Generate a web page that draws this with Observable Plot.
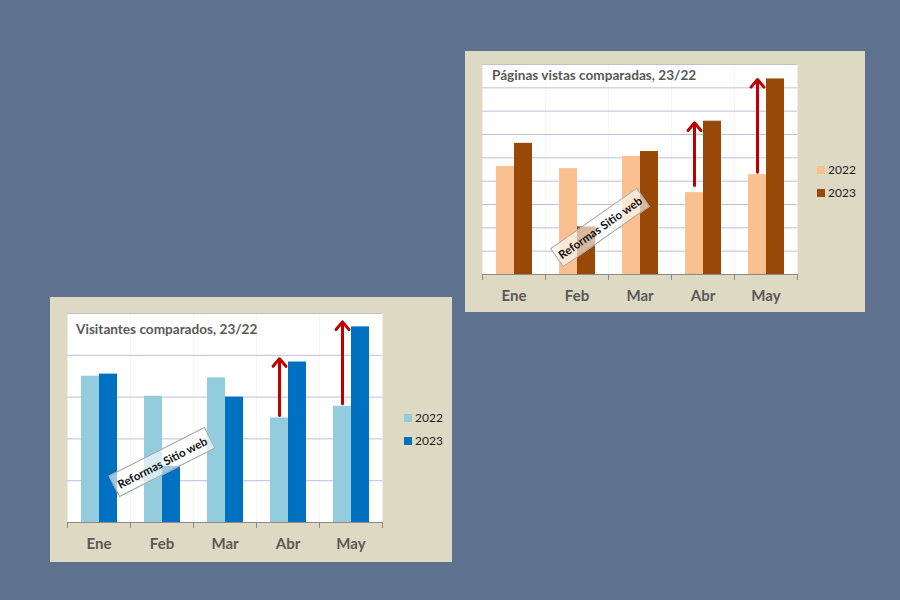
<!DOCTYPE html>
<html>
<head>
<meta charset="utf-8">
<script src="https://cdn.jsdelivr.net/npm/d3@7"></script>
<script src="https://cdn.jsdelivr.net/npm/@observablehq/plot@0.6"></script>
<style>
  html, body { margin: 0; padding: 0; }
  body { width: 900px; height: 600px; background: #5e7290; overflow: hidden; position: relative; font-family: Lato, "Open Sans", sans-serif; }
  .panel { position: absolute; background: #ddd9c3; }
  .panel svg { position: absolute; left: 0; top: 0; }
  .title { position: absolute; font-weight: bold; color: #595959; font-size: 13.6px; line-height: 14px; white-space: nowrap; }
  .legend { position: absolute; font-size: 12px; line-height: 12px; color: #1f1f1f; }
  .legend div { height: 12px; margin-bottom: 11px; white-space: nowrap; }
  .sw { display: inline-block; width: 8px; height: 8px; margin-right: 3px; }
  .note { position: absolute; box-sizing: border-box; border: 1px solid #a6a6a6; background: rgba(255,255,255,0.62);
          font-size: 11.5px; font-weight: bold; color: #111; text-align: center; white-space: nowrap;
          display: flex; align-items: center; justify-content: center; }
</style>
</head>
<body>
<script>
// ---- data ----
const months = ["Ene", "Feb", "Mar", "Abr", "May"];
const years = ["2022", "2023"];

const pages2022 = [4.63, 4.54, 5.06, 3.51, 4.28];
const pages2023 = [5.62, 2.04, 5.27, 6.57, 8.38];

const visitors2022 = [3.50, 3.02, 3.46, 2.50, 2.78];
const visitors2023 = [3.55, 1.34, 3.00, 3.84, 4.68];

const arrowMonths = ["Abr", "May"];
const pagesArrowFrom = [3.81, 4.38];
const pagesArrowTo = [6.50, 8.36];
const visitorsArrowFrom = [2.56, 2.84];
const visitorsArrowTo = [3.92, 4.80];

const pagesTitle = "Páginas vistas comparadas, 23/22";
const visitorsTitle = "Visitantes comparados, 23/22";
const noteText = "Reformas Sitio web";

const pagesColors = ["#fac090", "#984807"];
const visitorsColors = ["#93cddd", "#0070c0"];

// ---- builder ----
function buildChart(cfg) {
  const rows = months.flatMap((m, i) => [
    {month: m, year: years[0], value: cfg.v2022[i]},
    {month: m, year: years[1], value: cfg.v2023[i]}
  ]);
  const arrows = arrowMonths.map((m, i) => ({month: m, year: years[0], from: cfg.from[i], to: cfg.to[i]}));
  const plotH = cfg.height - cfg.mt - cfg.mb;
  const axisColor = "#8a8a8a";

  const chart = Plot.plot({
    width: cfg.width,
    height: cfg.height,
    marginLeft: cfg.ml,
    marginRight: cfg.mr,
    marginTop: cfg.mt,
    marginBottom: cfg.mb,
    style: {background: "transparent", fontFamily: "Lato, sans-serif", overflow: "visible"},
    fx: {domain: months, paddingInner: 0, paddingOuter: 0, axis: null, label: null},
    x: {domain: years, paddingInner: 0, paddingOuter: 0.75, axis: null, label: null},
    y: {domain: [0, cfg.ymax], axis: null},
    color: {domain: years, range: cfg.colors},
    marks: [
      Plot.frame({fill: "white", stroke: "none"}),
      Plot.ruleY(d3.range(1, cfg.ymax + 1), {stroke: "#c3bcd9", strokeWidth: 1}),
      Plot.barY(rows, {fx: "month", x: "year", y: "value", fill: "year"}),
      Plot.ruleY([0], {stroke: axisColor, strokeWidth: 1}),
      Plot.frame({anchor: "left", stroke: axisColor, insetTop: plotH, insetBottom: -5}),
      Plot.frame({anchor: "right", stroke: axisColor, insetTop: plotH, insetBottom: -5}),
      Plot.arrow(arrows, {fx: "month", x: "year", y1: "from", y2: "to", stroke: "#c00000", strokeWidth: 3, headLength: 5, headAngle: 80}),
      Plot.axisFx({anchor: "bottom", tickSize: 0, tickPadding: 16, fontSize: 15, fontWeight: "bold", fill: "#595959", label: null})
    ]
  });

  const panel = document.createElement("div");
  panel.className = "panel";
  Object.assign(panel.style, {left: cfg.left + "px", top: cfg.top + "px", width: cfg.width + "px", height: cfg.height + "px"});
  panel.appendChild(chart);

  const title = document.createElement("div");
  title.className = "title";
  title.textContent = cfg.title;
  Object.assign(title.style, {left: cfg.titleX + "px", top: cfg.titleY + "px"});
  panel.appendChild(title);

  const legend = document.createElement("div");
  legend.className = "legend";
  Object.assign(legend.style, {left: cfg.legendX + "px", top: cfg.legendY + "px"});
  years.forEach((y, i) => {
    const row = document.createElement("div");
    const sw = document.createElement("span");
    sw.className = "sw";
    sw.style.background = cfg.colors[i];
    row.appendChild(sw);
    row.appendChild(document.createTextNode(y));
    legend.appendChild(row);
  });
  panel.appendChild(legend);

  const note = document.createElement("div");
  note.className = "note";
  note.textContent = noteText;
  Object.assign(note.style, {
    width: cfg.noteW + "px", height: cfg.noteH + "px",
    left: (cfg.noteCX - cfg.noteW / 2) + "px", top: (cfg.noteCY - cfg.noteH / 2) + "px",
    transform: `rotate(${cfg.noteAngle}deg)`
  });
  panel.appendChild(note);

  document.body.appendChild(panel);
}

buildChart({
  left: 465, top: 51, width: 400, height: 261,
  ml: 16, mr: 67, mt: 13, mb: 38,
  ymax: 9, v2022: pages2022, v2023: pages2023,
  from: pagesArrowFrom, to: pagesArrowTo, colors: pagesColors,
  title: pagesTitle, titleX: 27, titleY: 17,
  legendX: 352, legendY: 113,
  noteCX: 135, noteCY: 176, noteW: 106, noteH: 23, noteAngle: -35
});

buildChart({
  left: 50, top: 297, width: 402, height: 265,
  ml: 16, mr: 69, mt: 16, mb: 40,
  ymax: 5, v2022: visitors2022, v2023: visitors2023,
  from: visitorsArrowFrom, to: visitorsArrowTo, colors: visitorsColors,
  title: visitorsTitle, titleX: 26, titleY: 25,
  legendX: 354, legendY: 115,
  noteCX: 112, noteCY: 165, noteW: 108, noteH: 24, noteAngle: -27
});
</script>
</body>
</html>
